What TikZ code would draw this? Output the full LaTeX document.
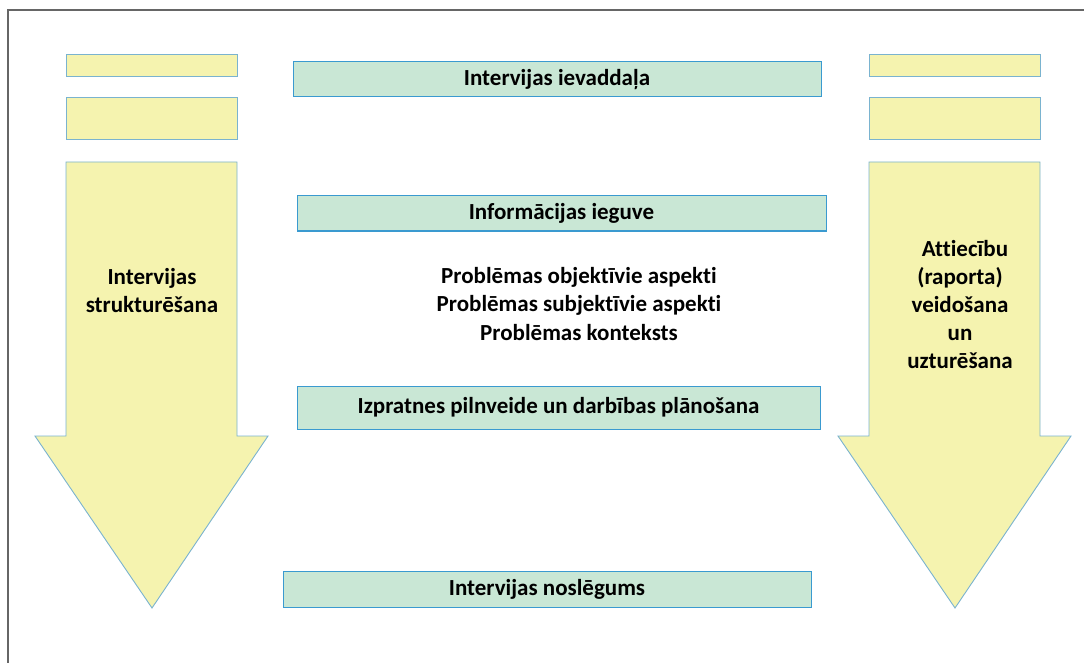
\documentclass[tikz,border=0pt]{standalone}
\usepackage{fontspec}
\setmainfont{Carlito}[Ligatures=NoCommon]
\definecolor{paleyellow}{HTML}{F5F3AF}
\definecolor{yellowedge}{HTML}{7AB3CF}
\definecolor{palegreen}{HTML}{C9E7D5}
\definecolor{greenedge}{HTML}{3A9AD0}
\newcommand*{\shaftTop}{162}
\newcommand*{\headTop}{436}
\newcommand*{\tipY}{608}
\tikzset{
  phase/.style={draw=greenedge, fill=palegreen, line width=1pt, inner sep=0pt,
    font=\bfseries\fontsize{23}{28}\selectfont},
  tag/.style={draw=yellowedge, fill=paleyellow, line width=1pt},
  flow/.style={draw=yellowedge, fill=paleyellow, line width=0.9pt, line join=miter},
  label/.style={align=center, inner sep=0pt, font=\bfseries\fontsize{23}{28}\selectfont},
  aspect/.style={align=center, inner sep=0pt, font=\bfseries\fontsize{23}{28.5}\selectfont}
}
\begin{document}
\begin{tikzpicture}[x=1pt,y=-1pt]
    \useasboundingbox (0,0) rectangle (1084,663);
    \draw [gray!80!black, line width=1.2pt] (8,663) -- (8,10) -- (1084,10);

    % small boxes above the arrows
    \foreach \x in {66,869} {
      \draw [tag] (\x,55) rectangle (\x+171,77);
      \draw [tag] (\x,98) rectangle (\x+171,140);
    }

    % big arrows
    \draw [flow] (66,\shaftTop) -- (237,\shaftTop) -- (237,\headTop) -- (268,\headTop)
      -- (152,\tipY) -- (35,\headTop) -- (66,\headTop) -- cycle;
    \draw [flow] (869,\shaftTop) -- (1040,\shaftTop) -- (1040,\headTop) -- (1071,\headTop)
      -- (955,\tipY) -- (838,\headTop) -- (869,\headTop) -- cycle;

    \node [label] (structure) at (152,291) {Intervijas\\strukturēšana};
    \node [label] (rapport) at (960,305) {\hspace*{10pt}Attiecību\\(raporta)\\veidošana\\un\hspace*{14pt}\\uzturēšana};

    % interview phases
    \node [phase, minimum width=528pt, minimum height=35pt] (intro) at (557,79.5) {Intervijas ievaddaļa};
    \node [phase, minimum width=529pt, minimum height=35pt] (info) at (561.5,213.5) {Informācijas ieguve};
    \node [aspect] (aspects) at (579,304) {Problēmas objektīvie aspekti\\Problēmas subjektīvie aspekti\\Problēmas konteksts};
    \node [phase, minimum width=523pt, minimum height=43pt] (plan) at (558.5,407.5) {Izpratnes pilnveide un darbības plānošana};
    \node [phase, minimum width=528pt, minimum height=36pt] (close) at (547,589) {Intervijas noslēgums};
\end{tikzpicture}
\end{document}
